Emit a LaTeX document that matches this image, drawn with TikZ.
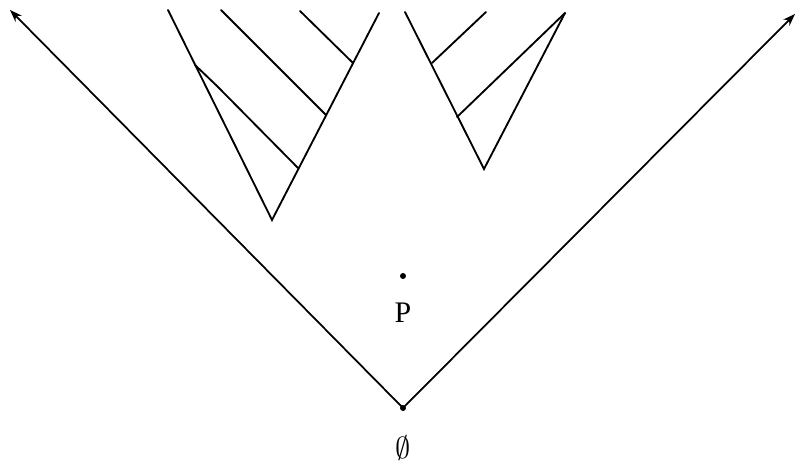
\documentclass[tikz,border=0pt]{standalone}
\usepackage{amsmath,amssymb}
\usepackage{fontspec}
\setmainfont{Liberation Serif}
\usepackage{tikz}
\usetikzlibrary{arrows.meta,positioning,calc}
\tikzset{
  cone_line/.style={line width=1pt,draw=black},
  cone_arr/.style={-{Stealth[length=7pt,width=5pt]},line width=1pt,draw=black},
  tree_line/.style={line width=1.05pt,draw=black,line cap=round},
  pt_dot/.style={circle,fill=black,inner sep=0pt,minimum size=3.4pt},
  pt_label/.style={font=\fontsize{17}{20}\selectfont,inner sep=0pt},
}

\begin{document}
\begin{tikzpicture}[x=0.02cm,y=-0.02cm]
  \useasboundingbox (0,0) rectangle (797,465);
  % origin and point P
  \node (o) [pt_dot] at (403,408) {};
  \node (olab) [pt_label] at (403,448) {$\emptyset$};
  \node (p) [pt_dot] at (403,276) {};
  \node (plab) [pt_label] at (403,313) {P};
  \coordinate (lend) at (10,10);
  \coordinate (rend) at (795,14);
  \draw[cone_arr] (o.center) -- (lend);
  \draw[cone_arr] (o.center) -- (rend);
  % left tree
  \coordinate (a1) at (272,220);
  \coordinate (a1l) at (168,10);
  \coordinate (a1r) at (379,13);
  \coordinate (b1) at (353,63);
  \coordinate (b2) at (326,115);
  \coordinate (b3) at (298,168);
  \coordinate (b3l) at (195,65);
  \draw[tree_line] (a1l) -- (a1) -- (a1r);
  \draw[tree_line] (b1) -- (300,11);
  \draw[tree_line] (b2) -- (221,10);
  \draw[tree_line] (b3) -- (217,86) -- (b3l);
  % right tree
  \coordinate (a2) at (484,169);
  \coordinate (a2l) at (405,12);
  \coordinate (a2r) at (565,13);
  \coordinate (c1) at (432,63);
  \coordinate (c2) at (457,117);
  \draw[tree_line] (a2l) -- (a2) -- (a2r);
  \draw[tree_line] (c1) -- (486,12);
  \draw[tree_line] (c2) -- (a2r);
\end{tikzpicture}
\end{document}
